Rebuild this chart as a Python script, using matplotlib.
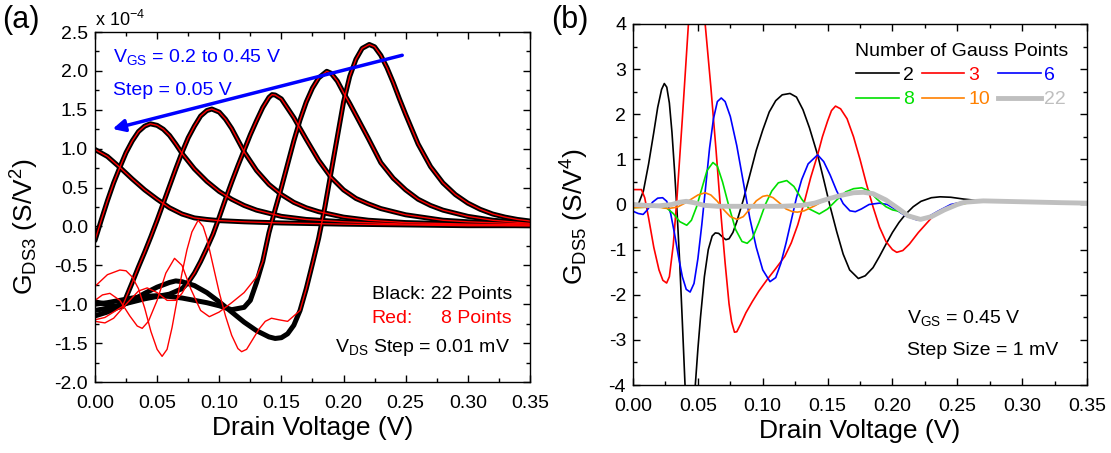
import matplotlib
matplotlib.use("Agg")
import matplotlib.pyplot as plt
from matplotlib.ticker import MultipleLocator, FormatStrFormatter

plt.rcParams['font.family'] = ['Liberation Sans', 'DejaVu Sans']
plt.rcParams['mathtext.default'] = 'regular'
plt.rcParams['axes.unicode_minus'] = False

# ---------------- panel (a): G_DS3 (x 1e-4), VGS = 0.2 .. 0.45 V ----------------
# part of each curve where 22 and 8 Gauss points agree
a_x = [0.0, 0.01, 0.02, 0.03, 0.04, 0.05, 0.06, 0.07, 0.08, 0.09, 0.10, 0.12, 0.15, 0.20, 0.25, 0.30, 0.35]
a_y = [0.99, 0.90, 0.76, 0.61, 0.47, 0.35, 0.24, 0.16, 0.11, 0.09, 0.075, 0.06, 0.045, 0.03, 0.02, 0.01, 0.01]

b_x = [0.0, 0.005, 0.01, 0.015, 0.02, 0.025, 0.03, 0.035, 0.04, 0.0445, 0.05, 0.055, 0.06, 0.065, 0.07,
       0.08, 0.09, 0.10, 0.11, 0.12, 0.13, 0.14, 0.15, 0.17, 0.20, 0.25, 0.30, 0.35]
b_y = [-0.18, 0.08, 0.33, 0.56, 0.76, 0.95, 1.10, 1.22, 1.29, 1.32, 1.30, 1.25, 1.17, 1.06, 0.94,
       0.74, 0.58, 0.45, 0.35, 0.27, 0.21, 0.17, 0.13, 0.09, 0.06, 0.03, 0.02, 0.01]

c_x = [0.022, 0.03, 0.035, 0.04, 0.045, 0.05, 0.055, 0.06, 0.065, 0.07, 0.075, 0.08, 0.085, 0.09, 0.094,
       0.10, 0.105, 0.11, 0.115, 0.12, 0.13, 0.14, 0.15, 0.16, 0.17, 0.18, 0.20, 0.22, 0.25, 0.30, 0.35]
c_y = [-1.03, -0.72, -0.52, -0.33, -0.13, 0.08, 0.30, 0.52, 0.74, 0.95, 1.14, 1.29, 1.42, 1.49, 1.51,
       1.47, 1.38, 1.26, 1.11, 0.96, 0.72, 0.54, 0.41, 0.31, 0.24, 0.19, 0.12, 0.08, 0.05, 0.03, 0.02]

d_x = [0.08, 0.085, 0.09, 0.095, 0.10, 0.105, 0.11, 0.115, 0.12, 0.125, 0.13, 0.135, 0.14, 0.1425, 0.145,
       0.15, 0.155, 0.16, 0.165, 0.17, 0.18, 0.19, 0.20, 0.21, 0.22, 0.23, 0.25, 0.28, 0.30, 0.35]
d_y = [-0.60, -0.45, -0.28, -0.10, 0.12, 0.35, 0.57, 0.78, 0.98, 1.18, 1.36, 1.53, 1.66, 1.695, 1.69,
       1.64, 1.52, 1.40, 1.26, 1.12, 0.85, 0.63, 0.47, 0.36, 0.29, 0.23, 0.15, 0.08, 0.06, 0.03]

e_x = [0.135, 0.14, 0.145, 0.15, 0.155, 0.16, 0.165, 0.17, 0.175, 0.18, 0.1865, 0.19, 0.195, 0.20, 0.205,
       0.21, 0.22, 0.23, 0.24, 0.25, 0.26, 0.27, 0.28, 0.30, 0.32, 0.35]
e_y = [-0.45, -0.08, 0.22, 0.50, 0.80, 1.10, 1.37, 1.60, 1.78, 1.91, 1.995, 1.97, 1.87, 1.72, 1.58,
       1.43, 1.13, 0.82, 0.62, 0.47, 0.35, 0.27, 0.21, 0.13, 0.08, 0.04]

f_x = [0.165, 0.17, 0.175, 0.18, 0.185, 0.19, 0.195, 0.20, 0.205, 0.21, 0.215, 0.2207, 0.225, 0.23, 0.235,
       0.24, 0.245, 0.25, 0.26, 0.27, 0.28, 0.29, 0.30, 0.31, 0.32, 0.33, 0.34, 0.35]
f_y = [-1.08, -0.80, -0.48, -0.15, 0.25, 0.70, 1.15, 1.60, 1.93, 2.15, 2.29, 2.34, 2.31, 2.20, 2.04,
       1.85, 1.64, 1.44, 1.06, 0.77, 0.56, 0.41, 0.30, 0.22, 0.16, 0.12, 0.09, 0.07]

# low-voltage parts where the two quadratures differ
c_blk_x = [0.0, 0.01, 0.017]
c_blk_y = [-0.97, -1.00, -1.04]
c_red_x = [0.0, 0.008, 0.015]
c_red_y = [-1.20, -1.17, -1.10]

d_blk_x = [0.0, 0.01, 0.02, 0.03, 0.04, 0.05, 0.06, 0.07, 0.075]
d_blk_y = [-1.08, -1.05, -1.01, -0.97, -0.93, -0.90, -0.87, -0.80, -0.72]
d_red_x = [0.0, 0.008, 0.015, 0.025, 0.035, 0.042, 0.05, 0.058, 0.065, 0.07, 0.075]
d_red_y = [-1.22, -1.24, -1.18, -1.00, -0.83, -0.79, -0.85, -0.95, -0.95, -0.86, -0.72]

e_blk_x = [0.0, 0.01, 0.02, 0.03, 0.04, 0.05, 0.06, 0.07, 0.08, 0.09, 0.10, 0.11, 0.12, 0.125, 0.13]
e_blk_y = [-1.00, -0.98, -0.95, -0.92, -0.90, -0.89, -0.90, -0.92, -0.95, -0.98, -1.02, -1.07, -1.04, -0.95, -0.72]
e_red_x = [0.0, 0.006, 0.012, 0.02, 0.028, 0.034, 0.038, 0.043, 0.05, 0.057, 0.064, 0.07, 0.077, 0.085,
           0.092, 0.10, 0.11, 0.12, 0.13]
e_red_y = [-0.95, -0.88, -0.86, -0.95, -1.15, -1.28, -1.31, -1.22, -0.95, -0.60, -0.41, -0.50, -0.80, -1.08,
           -1.16, -1.10, -0.98, -0.85, -0.65]

f_blk_x = [0.0, 0.01, 0.02, 0.03, 0.04, 0.05, 0.06, 0.065, 0.07, 0.08, 0.09, 0.10, 0.11, 0.12, 0.13, 0.14,
           0.145, 0.15, 0.155, 0.16]
f_blk_y = [-1.15, -1.10, -1.03, -0.95, -0.86, -0.78, -0.72, -0.70, -0.71, -0.76, -0.85, -0.97, -1.10, -1.23,
           -1.34, -1.42, -1.44, -1.43, -1.38, -1.27]
f_red_x = [0.0, 0.01, 0.02, 0.025, 0.03, 0.035, 0.04, 0.045, 0.05, 0.054, 0.058, 0.062, 0.066, 0.07, 0.074,
           0.078, 0.083, 0.087, 0.09, 0.095, 0.10, 0.105, 0.11, 0.115, 0.118, 0.122, 0.127, 0.132, 0.137,
           0.142, 0.148, 0.155, 0.16]
f_red_y = [-0.77, -0.62, -0.56, -0.57, -0.65, -0.80, -1.05, -1.35, -1.58, -1.67, -1.58, -1.30, -0.95, -0.60,
           -0.30, -0.07, 0.08, 0.0, -0.15, -0.50, -0.85, -1.15, -1.40, -1.57, -1.61, -1.58, -1.45, -1.32,
           -1.22, -1.18, -1.20, -1.22, -1.15]

# ---------------- panel (b): G_DS5 vs number of Gauss points, VGS = 0.45 V ----------------
gauss_labels = ['2', '3', '6', '8', '10', '22']

n2_x = [0.0, 0.004, 0.008, 0.012, 0.016, 0.019, 0.022, 0.0241, 0.026, 0.028, 0.030, 0.032, 0.034, 0.036,
        0.038, 0.040, 0.042, 0.044, 0.046, 0.048, 0.050, 0.052, 0.055, 0.058, 0.061, 0.0634, 0.066, 0.069,
        0.0715, 0.074, 0.077, 0.080, 0.085, 0.09, 0.095, 0.10, 0.105, 0.11, 0.115, 0.121, 0.126, 0.131,
        0.136, 0.1423, 0.147, 0.152, 0.157, 0.162, 0.167, 0.1737, 0.179, 0.185, 0.19, 0.195, 0.20, 0.205,
        0.21, 0.216, 0.222, 0.23, 0.2367, 0.245, 0.255, 0.265, 0.28, 0.30, 0.35]
n2_y = [-0.05, 0.00, 0.30, 0.90, 1.60, 2.15, 2.55, 2.68, 2.60, 2.25, 1.60, 0.75, -0.20, -1.30,
        -2.60, -3.95, -5.00, -5.60, -5.00, -4.00, -3.20, -2.50, -1.60, -1.00, -0.70, -0.63, -0.64, -0.72,
        -0.78, -0.76, -0.62, -0.38, 0.10, 0.65, 1.20, 1.65, 2.05, 2.30, 2.43, 2.46, 2.38, 2.10,
        1.70, 1.10, 0.55, -0.05, -0.60, -1.10, -1.45, -1.64, -1.58, -1.40, -1.15, -0.88, -0.62, -0.40,
        -0.22, -0.05, 0.07, 0.15, 0.17, 0.16, 0.12, 0.09, 0.07, 0.05, 0.02]

n3_x = [0.0, 0.0065, 0.009, 0.012, 0.016, 0.02, 0.023, 0.0259, 0.028, 0.031, 0.034, 0.038, 0.0427, 0.046,
        0.049, 0.052, 0.0556, 0.06, 0.064, 0.068, 0.071, 0.074, 0.076, 0.0782, 0.080, 0.083, 0.087, 0.092,
        0.097, 0.1035, 0.11, 0.117, 0.122, 0.127, 0.132, 0.137, 0.1423, 0.146, 0.15, 0.153, 0.1561, 0.16,
        0.165, 0.17, 0.175, 0.18, 0.185, 0.19, 0.195, 0.20, 0.2033, 0.208, 0.213, 0.22, 0.23, 0.24, 0.25,
        0.26, 0.27, 0.30, 0.35]
n3_y = [0.33, 0.33, 0.15, -0.30, -0.95, -1.45, -1.68, -1.74, -1.60, -0.90, 0.20, 1.90, 4.00, 5.30,
        5.60, 5.30, 4.00, 2.60, 1.20, -0.30, -1.30, -2.20, -2.60, -2.83, -2.82, -2.65, -2.40, -2.15,
        -1.92, -1.66, -1.42, -1.15, -0.85, -0.45, 0.05, 0.60, 1.10, 1.50, 1.85, 2.08, 2.18, 2.12,
        1.90, 1.50, 1.00, 0.45, -0.05, -0.50, -0.82, -1.00, -1.06, -1.02, -0.88, -0.62, -0.30, -0.10, 0.03,
        0.07, 0.08, 0.05, 0.02]

n6_x = [0.0, 0.004, 0.0078, 0.011, 0.015, 0.019, 0.0228, 0.026, 0.029, 0.032, 0.035, 0.038, 0.041, 0.044,
        0.047, 0.05, 0.053, 0.056, 0.059, 0.062, 0.065, 0.068, 0.071, 0.075, 0.08, 0.085, 0.09, 0.095,
        0.10, 0.1056, 0.11, 0.114, 0.118, 0.122, 0.126, 0.13, 0.135, 0.1423, 0.147, 0.152, 0.157, 0.162,
        0.1672, 0.1714, 0.176, 0.182, 0.19, 0.196, 0.203, 0.21, 0.2187, 0.226, 0.235, 0.245, 0.255, 0.27,
        0.30, 0.35]
n6_y = [-0.15, -0.20, -0.22, -0.12, 0.05, 0.14, 0.15, 0.07, -0.20, -0.65, -1.15, -1.60, -1.88, -1.94,
        -1.75, -1.20, -0.45, 0.40, 1.25, 1.90, 2.28, 2.36, 2.28, 1.95, 1.30, 0.50, -0.30, -0.95,
        -1.45, -1.71, -1.62, -1.30, -0.85, -0.35, 0.15, 0.55, 0.90, 1.10, 0.95, 0.65, 0.30, 0.02,
        -0.14, -0.16, -0.10, 0.00, 0.03, 0.00, -0.12, -0.25, -0.34, -0.30, -0.15, 0.00, 0.06, 0.08,
        0.05, 0.02]

n8_x = [0.0, 0.01, 0.02, 0.026, 0.031, 0.036, 0.0414, 0.045, 0.049, 0.053, 0.057, 0.0616, 0.065, 0.069,
        0.074, 0.079, 0.084, 0.088, 0.092, 0.097, 0.102, 0.107, 0.112, 0.1185, 0.124, 0.13, 0.136, 0.1436,
        0.15, 0.157, 0.164, 0.17, 0.1763, 0.182, 0.188, 0.195, 0.20, 0.205, 0.212, 0.2216, 0.23, 0.24,
        0.25, 0.27, 0.30, 0.35]
n8_y = [-0.07, -0.06, -0.05, -0.08, -0.20, -0.38, -0.46, -0.35, -0.05, 0.35, 0.75, 0.93, 0.85, 0.50,
        -0.05, -0.55, -0.82, -0.86, -0.75, -0.40, 0.00, 0.30, 0.48, 0.53, 0.40, 0.12, -0.10, -0.21,
        -0.10, 0.10, 0.28, 0.35, 0.37, 0.30, 0.12, -0.05, -0.12, -0.15, -0.26, -0.33, -0.27, -0.12,
        0.00, 0.08, 0.06, 0.03]

n10_x = [0.0, 0.01, 0.02, 0.027, 0.034, 0.04, 0.045, 0.05, 0.0556, 0.06, 0.065, 0.07, 0.075, 0.0802,
         0.085, 0.09, 0.095, 0.10, 0.1035, 0.108, 0.113, 0.118, 0.123, 0.1268, 0.132, 0.14, 0.148, 0.156,
         0.165, 0.175, 0.185, 0.195, 0.205, 0.212, 0.2216, 0.23, 0.24, 0.25, 0.27, 0.30, 0.35]
n10_y = [-0.07, -0.06, -0.06, -0.09, -0.06, 0.03, 0.12, 0.21, 0.26, 0.21, 0.07, -0.12, -0.27, -0.33,
         -0.27, -0.10, 0.08, 0.18, 0.20, 0.15, 0.03, -0.10, -0.16, -0.17, -0.14, -0.03, 0.10, 0.19,
         0.24, 0.27, 0.24, 0.10, -0.10, -0.25, -0.33, -0.27, -0.12, 0.00, 0.08, 0.06, 0.03]

n22_x = [0.0, 0.01, 0.02, 0.03, 0.036, 0.041, 0.047, 0.055, 0.065, 0.08, 0.10, 0.115, 0.13, 0.14, 0.15,
         0.16, 0.17, 0.1776, 0.185, 0.195, 0.205, 0.212, 0.2216, 0.23, 0.24, 0.25, 0.2556, 0.27, 0.30,
         0.33, 0.35]
n22_y = [0.00, -0.02, -0.03, 0.00, 0.05, 0.07, 0.04, -0.02, -0.04, -0.04, -0.04, -0.04, -0.02, 0.03, 0.12,
         0.20, 0.26, 0.27, 0.24, 0.10, -0.10, -0.25, -0.33, -0.27, -0.12, 0.00, 0.05, 0.08, 0.06,
         0.04, 0.03]

fig = plt.figure(figsize=(11.11, 4.53), dpi=100)
ax1 = fig.add_axes([0.0855, 0.1567, 0.3915, 0.7726])
ax2 = fig.add_axes([0.5698, 0.1501, 0.4086, 0.7970])

# black = 22 points, red = 8 points
black_curves = [(a_x, a_y), (b_x, b_y),
                (c_blk_x + c_x, c_blk_y + c_y), (d_blk_x + d_x, d_blk_y + d_y),
                (e_blk_x + e_x, e_blk_y + e_y), (f_blk_x + f_x, f_blk_y + f_y)]
red_curves = [(a_x, a_y), (b_x, b_y),
              (c_red_x + c_x, c_red_y + c_y), (d_red_x + d_x, d_red_y + d_y),
              (e_red_x + e_x, e_red_y + e_y), (f_red_x + f_x, f_red_y + f_y)]
for x, y in black_curves:
    ax1.plot(x, y, color='black', lw=3.6, solid_capstyle='round', solid_joinstyle='round')
for x, y in red_curves:
    ax1.plot(x, y, color='red', lw=1.0)

ax1.set_xlim(0, 0.35)
ax1.set_ylim(-2.0, 2.5)
ax1.xaxis.set_major_locator(MultipleLocator(0.05))
ax1.xaxis.set_minor_locator(MultipleLocator(0.025))
ax1.yaxis.set_major_locator(MultipleLocator(0.5))
ax1.yaxis.set_minor_locator(MultipleLocator(0.25))
ax1.xaxis.set_major_formatter(FormatStrFormatter('%.2f'))
ax1.yaxis.set_major_formatter(FormatStrFormatter('%.1f'))
ax1.set_xlabel('Drain Voltage (V)', fontsize=19, labelpad=3)
ax1.set_ylabel('G$_{DS3}$ (S/V$^2$)', fontsize=19)
ax1.yaxis.set_label_coords(-0.125, 0.443)

ax1.annotate('', xy=(0.012, 1.245), xytext=(0.2494, 2.21),
             arrowprops=dict(arrowstyle='-|>', color='#0000ff', lw=2.5, mutation_scale=18))
ax1.text(0.0145, 2.11, '$V_{GS}$ = 0.2 to 0.45 V', color='#0000ff', fontsize=14, va='baseline')
ax1.text(0.0145, 1.695, 'Step = 0.05 V', color='#0000ff', fontsize=14, va='baseline')
ax1.text(0.636, 0.236, 'Black: 22 Points', transform=ax1.transAxes, fontsize=14, va='baseline')
ax1.text(0.636, 0.169, 'Red:', transform=ax1.transAxes, fontsize=14, color='red', va='baseline')
ax1.text(0.957, 0.169, '8 Points', transform=ax1.transAxes, fontsize=14, color='red',
         va='baseline', ha='right')
ax1.text(0.953, 0.087, '$V_{DS}$ Step = 0.01 mV', transform=ax1.transAxes, fontsize=14,
         va='baseline', ha='right')
fig.text(0.0855, 0.9426, 'x 10$^{-4}$', fontsize=13, va='baseline')

# panel (b)
series_b = [(n2_x, n2_y, 'black', 1.2), (n3_x, n3_y, '#ff0000', 1.2), (n6_x, n6_y, '#0000ff', 1.2),
            (n8_x, n8_y, '#00e000', 1.2), (n10_x, n10_y, '#ff8000', 1.2), (n22_x, n22_y, '#bfbfbf', 3.5)]
handles = []
for (x, y, col, lw), lab in zip(series_b, gauss_labels):
    h, = ax2.plot(x, y, color=col, lw=lw, label=lab)
    handles.append(h)

ax2.set_xlim(0, 0.35)
ax2.set_ylim(-4, 4)
ax2.xaxis.set_major_locator(MultipleLocator(0.05))
ax2.xaxis.set_minor_locator(MultipleLocator(0.025))
ax2.yaxis.set_major_locator(MultipleLocator(1))
ax2.yaxis.set_minor_locator(MultipleLocator(0.5))
ax2.xaxis.set_major_formatter(FormatStrFormatter('%.2f'))
ax2.yaxis.set_major_formatter(FormatStrFormatter('%d'))
ax2.set_xlabel('Drain Voltage (V)', fontsize=19, labelpad=3)
ax2.set_ylabel('G$_{DS5}$ (S/V$^4$)', fontsize=19)
ax2.yaxis.set_label_coords(-0.092, 0.465)

order = [0, 3, 1, 4, 2, 5]
leg = ax2.legend([handles[i] for i in order], [gauss_labels[i] for i in order], ncol=3,
                 title='Number of Gauss Points', title_fontsize=14, fontsize=14, frameon=False,
                 loc='upper right', bbox_to_anchor=(0.975, 0.97), borderaxespad=0,
                 handlelength=2.2, handletextpad=0.2, columnspacing=0.4, labelspacing=0.35,
                 labelcolor='linecolor')

ax2.text(0.211, -2.63, '$V_{GS}$ = 0.45 V', fontsize=14, va='baseline')
ax2.text(0.211, -3.34, 'Step Size = 1 mV', fontsize=14, va='baseline')

for ax in (ax1, ax2):
    ax.tick_params(which='both', direction='in', top=True, right=True, width=1, labelsize=14)
    ax.tick_params(which='major', length=5)
    ax.tick_params(which='minor', length=3)
    ax.tick_params(axis='x', which='major', pad=9)
    ax.tick_params(axis='y', which='major', pad=5)
    for s in ax.spines.values():
        s.set_linewidth(1.0)

fig.text(0.002, 0.988, '(a)', fontsize=22, va='top')
fig.text(0.496, 0.988, '(b)', fontsize=22, va='top')

fig.savefig('out.png', dpi=100)
